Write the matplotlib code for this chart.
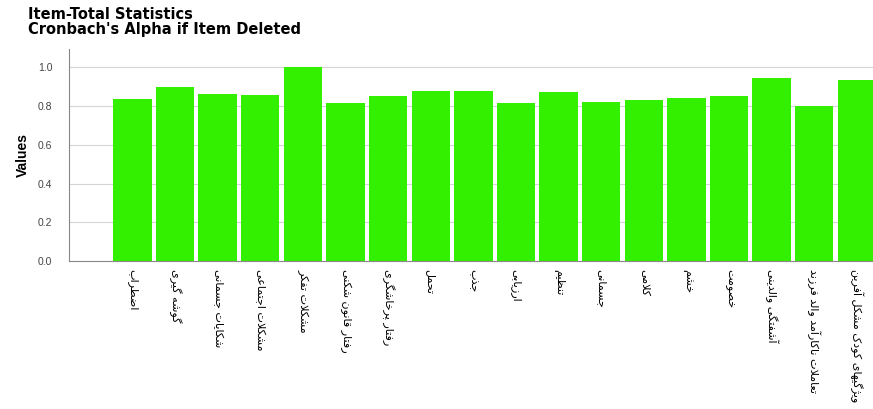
import matplotlib
matplotlib.use('Agg')
import matplotlib.pyplot as plt
import numpy as np

# data
labels = ['اضطراب', 'گوشه گیری', 'شکایات جسمانی', 'مشکلات اجتماعی',
          'مشکلات تفکر', 'رفتار قانون شکنی', 'رفتار پرخاشگری', 'تحمل',
          'جذب', 'ارزیابی', 'تنظیم', 'جسمانی', 'کلامی', 'خشم', 'خصومت',
          'آشفتگی والدینی', 'تعاملات ناکارآمد والد فرزند',
          'ویژگیهای کودک مشکل آفرین']
values = [0.835, 0.897, 0.862, 0.859, 1.000, 0.814, 0.854, 0.878, 0.878,
          0.814, 0.872, 0.821, 0.833, 0.843, 0.854, 0.948, 0.800, 0.934]
yticks = [0.0, 0.2, 0.4, 0.6, 0.8, 1.0]

# matplotlib has no arabic shaping, so do a small one by hand
FORMS = {
    'ا': ('\uFE8D', '\uFE8E'), 'آ': ('\uFE81', '\uFE82'),
    'د': ('\uFEA9', '\uFEAA'), 'ذ': ('\uFEAB', '\uFEAC'),
    'ر': ('\uFEAD', '\uFEAE'), 'ز': ('\uFEAF', '\uFEB0'),
    'ژ': ('\uFB8A', '\uFB8B'), 'و': ('\uFEED', '\uFEEE'),
    'لا': ('\uFEFB', '\uFEFC'), 'لآ': ('\uFEF5', '\uFEF6'),
    'ب': ('\uFE8F', '\uFE90', '\uFE91', '\uFE92'),
    'پ': ('\uFB56', '\uFB57', '\uFB58', '\uFB59'),
    'ت': ('\uFE95', '\uFE96', '\uFE97', '\uFE98'),
    'ج': ('\uFE9D', '\uFE9E', '\uFE9F', '\uFEA0'),
    'ح': ('\uFEA1', '\uFEA2', '\uFEA3', '\uFEA4'),
    'خ': ('\uFEA5', '\uFEA6', '\uFEA7', '\uFEA8'),
    'س': ('\uFEB1', '\uFEB2', '\uFEB3', '\uFEB4'),
    'ش': ('\uFEB5', '\uFEB6', '\uFEB7', '\uFEB8'),
    'ص': ('\uFEB9', '\uFEBA', '\uFEBB', '\uFEBC'),
    'ض': ('\uFEBD', '\uFEBE', '\uFEBF', '\uFEC0'),
    'ط': ('\uFEC1', '\uFEC2', '\uFEC3', '\uFEC4'),
    'ظ': ('\uFEC5', '\uFEC6', '\uFEC7', '\uFEC8'),
    'ع': ('\uFEC9', '\uFECA', '\uFECB', '\uFECC'),
    'ف': ('\uFED1', '\uFED2', '\uFED3', '\uFED4'),
    'ق': ('\uFED5', '\uFED6', '\uFED7', '\uFED8'),
    'ک': ('\uFB8E', '\uFB8F', '\uFB90', '\uFB91'),
    'گ': ('\uFB92', '\uFB93', '\uFB94', '\uFB95'),
    'ل': ('\uFEDD', '\uFEDE', '\uFEDF', '\uFEE0'),
    'م': ('\uFEE1', '\uFEE2', '\uFEE3', '\uFEE4'),
    'ن': ('\uFEE5', '\uFEE6', '\uFEE7', '\uFEE8'),
    'ه': ('\uFEE9', '\uFEEA', '\uFEEB', '\uFEEC'),
    'ی': ('\uFBFC', '\uFBFD', '\uFBFE', '\uFBFF'),
}


def shape(s):
    toks = []
    i = 0
    while i < len(s):
        if s[i] == 'ل' and i + 1 < len(s) and s[i + 1] in 'اآ':
            toks.append(s[i:i + 2])
            i += 2
        else:
            toks.append(s[i])
            i += 1
    out = []
    for k, t in enumerate(toks):
        if t not in FORMS:
            out.append(t)
            continue
        f = FORMS[t]
        prev = toks[k - 1] if k > 0 else None
        nxt = toks[k + 1] if k + 1 < len(toks) else None
        jp = prev in FORMS and len(FORMS[prev]) == 4
        jn = len(f) == 4 and nxt in FORMS
        if jp and jn:
            out.append(f[3])
        elif jp:
            out.append(f[1])
        elif jn:
            out.append(f[2])
        else:
            out.append(f[0])
    return ''.join(out)[::-1]


plt.rcParams['font.family'] = ['Liberation Sans', 'DejaVu Sans']

fig = plt.figure(figsize=(8.73, 4.09), dpi=100)
ax = fig.add_axes([0.079, 0.362, 0.921, 0.518])

x = np.arange(len(values))
ax.bar(x, values, width=0.9, color='#33f000', zorder=2)

ax.set_xlim(-1.49, 17.38)
ax.set_ylim(0, 1.095)
ax.set_yticks(yticks)
ax.set_yticklabels(['%.1f' % v for v in yticks], fontsize=7.5, color='#444444')
ax.yaxis.grid(True, color='#d4d4d4', linewidth=0.8, zorder=0)
ax.set_axisbelow(True)
ax.tick_params(axis='y', length=0, pad=12)
ax.tick_params(axis='x', length=0, pad=6)

ax.set_xticks(x)
ax.set_xticklabels([shape(l) for l in labels], rotation=-90, fontsize=8,
                   family='DejaVu Sans', va='top', ha='center')

for s in ['top', 'right']:
    ax.spines[s].set_visible(False)
ax.spines['left'].set_color('#888888')
ax.spines['bottom'].set_color('#888888')

ax.set_ylabel('Values', fontsize=10, fontweight='bold')
ax.yaxis.set_label_coords(-0.049, 0.5)

fig.text(0.032, 0.982, "Item-Total Statistics\nCronbach's Alpha if Item Deleted",
         fontsize=10.5, fontweight='bold', family='DejaVu Sans',
         va='top', ha='left', linespacing=0.95)

fig.savefig('out.png', dpi=100)
